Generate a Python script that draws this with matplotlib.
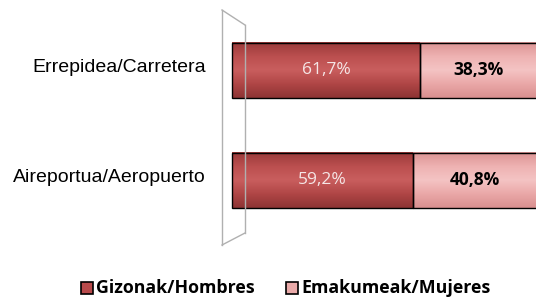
import matplotlib
matplotlib.use("Agg")
import matplotlib.pyplot as plt
import numpy as np
from matplotlib.lines import Line2D
from matplotlib.patches import Rectangle
from matplotlib.colors import LinearSegmentedColormap

categories = ["Aireportua/Aeropuerto", "Errepidea/Carretera"]
hombres = [59.2, 61.7]
mujeres = [40.8, 38.3]
series_names = ["Gizonak/Hombres", "Emakumeak/Mujeres"]

W, H = 536, 297
fig = plt.figure(figsize=(W/100, H/100), dpi=100)
fig.patch.set_facecolor("white")

def fx(px): return px / W
def fy(py): return 1 - py / H

ax = fig.add_axes([fx(232), fy(245), 305/W, (245-8)/H])
ax.set_xlim(0, 100)
ax.set_ylim(-0.59, 1.564)
ax.axis("off")

c_h = "#b84a4b"
c_m = "#eaaaa9"
cmap_h = LinearSegmentedColormap.from_list("h", ["#8e3434", "#b04646", "#c95e5e", "#bb4f4f", "#9a3a3a"])
cmap_m = LinearSegmentedColormap.from_list("m", ["#d99090", "#eaa8a8", "#f4c4c4", "#eeb2b2", "#dc9494"])
grad = np.linspace(0, 1, 64).reshape(-1, 1)
bh = 0.5
y = list(range(len(categories)))

bars_h = ax.barh(y, hombres, height=bh, color="none", edgecolor="none")
bars_m = ax.barh(y, mujeres, left=hombres, height=bh, color="none", edgecolor="none")
for bars, cm in [(bars_h, cmap_h), (bars_m, cmap_m)]:
    for b in bars:
        x0, y0, w, h = b.get_x(), b.get_y(), b.get_width(), b.get_height()
        ax.imshow(grad, cmap=cm, aspect="auto", extent=[x0, x0 + w, y0, y0 + h],
                  origin="lower", interpolation="bilinear", clip_on=False, zorder=1)
        ax.add_patch(Rectangle((x0, y0), w, h, facecolor="none", edgecolor="black", lw=1.0,
                               clip_on=False, zorder=2))
ax.set_xlim(0, 100)
ax.set_ylim(-0.59, 1.564)

for i in y:
    ax.text(hombres[i]/2, i, f"{hombres[i]:.1f}%".replace(".", ","), ha="center", va="center",
            color="#f5e6e6", fontsize=12.5, family="Open Sans", zorder=3)
    ax.text(hombres[i] + mujeres[i]/2, i, f"{mujeres[i]:.1f}%".replace(".", ","), ha="center", va="center",
            color="black", fontsize=12.5, fontweight="bold", family="Open Sans", zorder=3)
    fig.text(fx(206), fy(67 if i == 1 else 178), categories[i], ha="right", va="center",
             fontsize=14, family="Liberation Sans", color="black")

# 3D wall decoration
wc = "#b0b0b0"
for (x0, y0, x1, y1) in [(222, 10, 222, 245), (245, 25, 245, 233), (222, 10, 245, 25), (222, 245, 245, 233)]:
    fig.add_artist(Line2D([fx(x0), fx(x1)], [fy(y0), fy(y1)], color=wc, lw=1.0, transform=fig.transFigure))

# legend
for (mx, tx, col, name) in [(81, 96, c_h, series_names[0]), (286, 301, c_m, series_names[1])]:
    fig.add_artist(Rectangle((fx(mx), fy(294)), 12/W, 12/H, facecolor=col, edgecolor="black", lw=1.2,
                             transform=fig.transFigure))
    fig.text(fx(tx), fy(288), name, ha="left", va="center", fontsize=12.8, fontweight="bold",
             family="Open Sans", color="black")

fig.savefig("out.png", dpi=100)
